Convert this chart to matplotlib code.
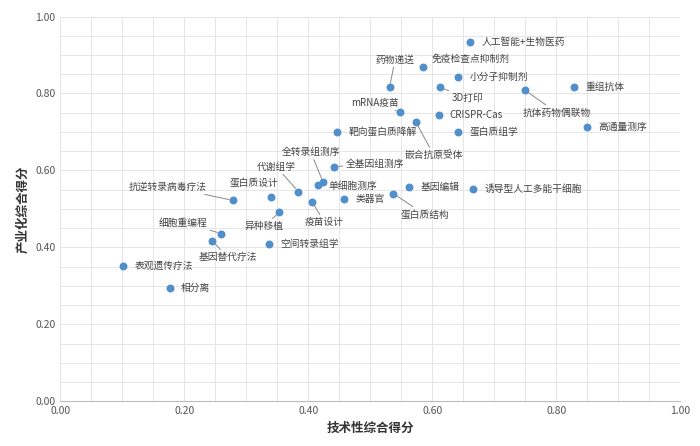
import matplotlib
matplotlib.use("Agg")
import matplotlib.pyplot as plt

plt.rcParams['font.family'] = ['Noto Sans CJK SC', 'DejaVu Sans']

names = ["人工智能+生物医药","免疫检查点抑制剂","药物递送","小分子抑制剂","3D打印","抗体药物偶联物","重组抗体",
         "mRNA疫苗","CRISPR-Cas","嵌合抗原受体","靶向蛋白质降解","蛋白质组学","高通量测序",
         "全基因组测序","全转录组测序","单细胞测序","代谢组学","蛋白质设计","抗逆转录病毒疗法","疫苗设计",
         "类器官","蛋白质结构","基因编辑","诱导型人工多能干细胞","异种移植","细胞重编程","基因替代疗法",
         "空间转录组学","表观遗传疗法","相分离"]
tech = [0.661,0.585,0.531,0.642,0.613,0.750,0.829,0.548,0.610,0.573,0.447,0.642,0.850,
        0.442,0.424,0.415,0.384,0.340,0.279,0.406,0.458,0.537,0.563,0.666,0.353,0.260,0.245,
        0.337,0.102,0.177]
ind = [0.935,0.868,0.816,0.844,0.816,0.808,0.816,0.751,0.743,0.727,0.701,0.701,0.714,
       0.610,0.569,0.561,0.545,0.532,0.522,0.519,0.525,0.540,0.558,0.553,0.491,0.436,0.418,
       0.410,0.351,0.294]

offsets = {
 "人工智能+生物医药": (8, 0, False), "免疫检查点抑制剂": (6, 6, False), "药物递送": (-10, 20, True),
 "小分子抑制剂": (8, 0, False), "3D打印": (8, -8, True), "抗体药物偶联物": (-2, -16, True),
 "重组抗体": (8, 0, False), "mRNA疫苗": (-35, 7, True), "CRISPR-Cas": (8, 0, False),
 "嵌合抗原受体": (-8, -24, True), "靶向蛋白质降解": (8, 0, False), "蛋白质组学": (8, 0, False),
 "高通量测序": (8, 0, False), "全基因组测序": (8, 2, True), "全转录组测序": (-30, 22, True),
 "单细胞测序": (8, 0, False), "代谢组学": (-30, 18, True), "蛋白质设计": (-30, 10, False),
 "抗逆转录病毒疗法": (-75, 10, True), "疫苗设计": (-5, -15, True), "类器官": (8, 0, False),
 "蛋白质结构": (5, -15, True), "基因编辑": (8, 0, False), "诱导型人工多能干细胞": (8, 0, False),
 "异种移植": (-25, -10, True), "细胞重编程": (-45, 8, True), "基因替代疗法": (-10, -12, True),
 "空间转录组学": (8, 0, False), "表观遗传疗法": (8, 0, False), "相分离": (8, 0, False),
}

fig = plt.figure(figsize=(7, 4.46), dpi=100)
ax = fig.add_axes([0.086, 0.10, 0.886, 0.863])
ax.scatter(tech, ind, s=22, color='#4f8fcc', zorder=3)
for n, x, y in zip(names, tech, ind):
    dx, dy, line = offsets[n]
    ax.annotate(n, (x, y), xytext=(dx, dy), textcoords='offset points',
                fontsize=7, color='#444444', va='center',
                arrowprops=dict(arrowstyle='-', color='#888888', lw=0.7, shrinkA=0, shrinkB=3) if line else None)
ax.set_xlim(0, 1)
ax.set_ylim(0, 1)
ax.set_xticks([i/5 for i in range(6)])
ax.set_yticks([i/5 for i in range(6)])
ax.set_xticks([i/20 for i in range(21)], minor=True)
ax.set_yticks([i/20 for i in range(21)], minor=True)
ax.set_xticklabels([f"{i/5:.2f}" for i in range(6)])
ax.set_yticklabels([f"{i/5:.2f}" for i in range(6)])
ax.grid(True, which='both', color='#e6e6e6', lw=0.7)
ax.tick_params(which='both', length=0, labelsize=7.5, colors='#555555')
for s in ax.spines.values():
    s.set_visible(False)
ax.spines['bottom'].set_visible(True)
ax.spines['bottom'].set_color('#bbbbbb')
ax.set_axisbelow(True)
ax.set_xlabel("技术性综合得分", fontsize=9, fontweight='bold', color='#333333')
ax.set_ylabel("产业化综合得分", fontsize=9, fontweight='bold', color='#333333')
fig.savefig("out.png", dpi=100)
